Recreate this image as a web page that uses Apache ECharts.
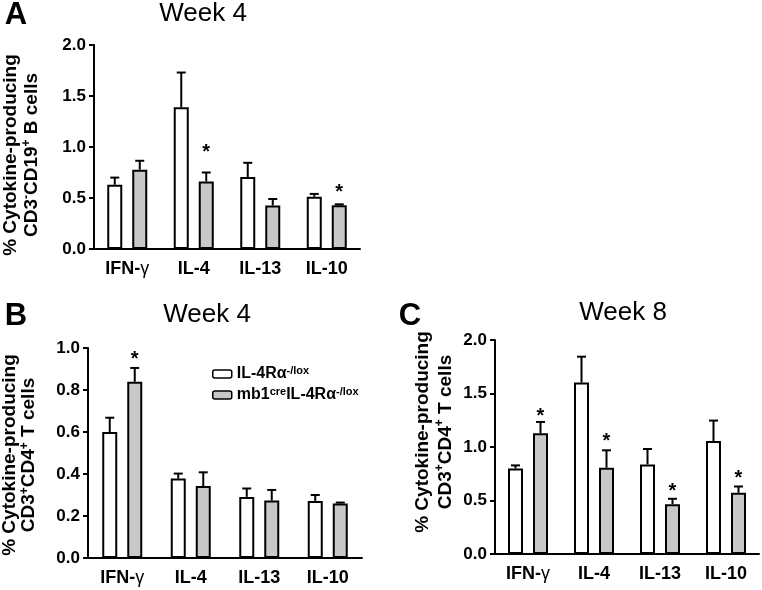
<!DOCTYPE html>
<html>
<head>
<meta charset="utf-8">
<script src="https://cdn.jsdelivr.net/npm/echarts@6/dist/echarts.min.js"></script>
<style>html,body{margin:0;padding:0;background:#fff;}#c{width:762px;height:590px;}</style>
</head>
<body>
<div id="c"></div>
<script>
// ---------- data ----------
const categories = ['IFN-γ', 'IL-4', 'IL-13', 'IL-10'];
const seriesNames = ['IL-4Rα-/lox', 'mb1creIL-4Rα-/lox'];

// Panel A: Week 4, CD3-CD19+ B cells
const aCtrl = [0.63, 1.39, 0.705, 0.513];
const aCtrlErr = [0.07, 0.34, 0.14, 0.027];
const aKo = [0.777, 0.662, 0.427, 0.428];
const aKoErr = [0.088, 0.088, 0.063, 0.01];
const aStars = [null, 0.987, null, 0.595];

// Panel B: Week 4, CD3+CD4+ T cells
const bCtrl = [0.60, 0.378, 0.291, 0.272];
const bCtrlErr = [0.068, 0.024, 0.04, 0.028];
const bKo = [0.839, 0.343, 0.274, 0.26];
const bKoErr = [0.066, 0.065, 0.05, 0.004];
const bStars = [0.967, null, null, null];

// Panel C: Week 8, CD3+CD4+ T cells
const cCtrl = [0.80, 1.603, 0.8375, 1.056];
const cCtrlErr = [0.028, 0.241, 0.144, 0.191];
const cKo = [1.128, 0.806, 0.466, 0.572];
const cKoErr = [0.106, 0.163, 0.05, 0.059];
const cStars = [1.327, 1.093, 0.626, 0.751];

const aTicks = {min: 0, max: 2, interval: 0.5};
const bTicks = {min: 0, max: 1, interval: 0.2};
const cTicks = {min: 0, max: 2, interval: 0.5};

// ---------- styling ----------
const FONT = "'Liberation Sans', Arial, Helvetica, sans-serif";
const BAR_W = 15, BAR_GAP = 10, CAP = 9, STAR_FONT = 20;
const OFFSET = (BAR_W + BAR_GAP) / 2;
const GREY = '#c8c8c8';

const panels = [
  {grid: {left: 94, top: 45, width: 266, height: 204}, ticks: aTicks, ctrl: aCtrl, ctrlErr: aCtrlErr, ko: aKo, koErr: aKoErr, stars: aStars,
   name: '% Cytokine-producing\nCD3{sup|-}CD19{sup|+} B cells', nameGap: 52, lh: 21, pad: [0, 16, 0, 0]},
  {grid: {left: 88, top: 348, width: 274, height: 210}, ticks: bTicks, ctrl: bCtrl, ctrlErr: bCtrlErr, ko: bKo, koErr: bKoErr, stars: bStars,
   name: '% Cytokine-producing\nCD3{sup|+}CD4{sup|+} T cells', nameGap: 50, lh: 19, pad: [0, 4, 0, 0]},
  {grid: {left: 495, top: 340, width: 264, height: 214}, ticks: cTicks, ctrl: cCtrl, ctrlErr: cCtrlErr, ko: cKo, koErr: cKoErr, stars: cStars,
   name: '% Cytokine-producing\nCD3{sup|+}CD4{sup|+} T cells', nameGap: 38, lh: 23, pad: [0, 0, 0, 30]}
];

function errRender(sign) {
  return function (params, api) {
    const i = api.value(0), m = api.value(1), e = api.value(2), s = api.value(3);
    const base = api.coord([i, m]);
    const top = api.coord([i, m + e]);
    const x = base[0] + sign * OFFSET;
    const ls = {stroke: '#000', lineWidth: 2};
    const children = [
      {type: 'line', shape: {x1: x, y1: base[1], x2: x, y2: top[1]}, style: ls},
      {type: 'line', shape: {x1: x - CAP / 2, y1: top[1], x2: x + CAP / 2, y2: top[1]}, style: ls}
    ];
    if (isFinite(s) && s > 0) {
      const sp = api.coord([i, s]);
      children.push({type: 'text', style: {text: '*', x: x, y: sp[1] + STAR_FONT * 0.22, align: 'center', verticalAlign: 'middle',
        fill: '#000', font: 'bold ' + STAR_FONT + 'px ' + FONT}});
    }
    return {type: 'group', children: children};
  };
}

const grids = [], xAxes = [], yAxes = [], series = [];
panels.forEach((p, k) => {
  grids.push(Object.assign({outerBoundsMode: 'none', containLabel: false}, p.grid));
  xAxes.push({
    type: 'category', gridIndex: k, data: categories,
    axisLine: {lineStyle: {color: '#000', width: 2}},
    axisTick: {alignWithLabel: true, length: 5, lineStyle: {color: '#000', width: 2}},
    axisLabel: {interval: 0, color: '#000', fontFamily: FONT, fontWeight: 'bold', fontSize: 18, margin: 11,
      formatter: v => v.replace('γ', '{g|γ}'),
      rich: {g: {fontFamily: FONT, fontWeight: 'normal', fontSize: 18, color: '#000'}}}
  });
  yAxes.push({
    type: 'value', gridIndex: k, min: p.ticks.min, max: p.ticks.max, interval: p.ticks.interval,
    axisLine: {show: true, lineStyle: {color: '#000', width: 2}},
    axisTick: {show: true, length: 5, lineStyle: {color: '#000', width: 2}},
    splitLine: {show: false},
    axisLabel: {color: '#000', fontFamily: FONT, fontWeight: 'bold', fontSize: 17, margin: 8, formatter: v => v.toFixed(1)},
    name: p.name, nameLocation: 'middle', nameGap: p.nameGap,
    nameTextStyle: {color: '#000', fontFamily: FONT, fontWeight: 'bold', fontSize: 19, lineHeight: p.lh, padding: p.pad,
      rich: {sup: {fontFamily: FONT, fontWeight: 'bold', fontSize: 12, color: '#000', verticalAlign: 'top', lineHeight: p.lh}}}
  });
  series.push({
    type: 'bar', name: seriesNames[0], xAxisIndex: k, yAxisIndex: k, data: p.ctrl,
    barWidth: BAR_W, barGap: (BAR_GAP / BAR_W * 100) + '%',
    itemStyle: {color: '#fff', borderColor: '#000', borderWidth: 2}, emphasis: {disabled: true}
  });
  series.push({
    type: 'bar', name: seriesNames[1], xAxisIndex: k, yAxisIndex: k, data: p.ko,
    barWidth: BAR_W, barGap: (BAR_GAP / BAR_W * 100) + '%',
    itemStyle: {color: GREY, borderColor: '#000', borderWidth: 2}, emphasis: {disabled: true}
  });
  series.push({
    type: 'custom', name: 'err-ctrl-' + k, xAxisIndex: k, yAxisIndex: k, clip: false, z: 5,
    renderItem: errRender(-1), encode: {x: 0, y: 1},
    data: p.ctrl.map((v, i) => [i, v, p.ctrlErr[i], 0])
  });
  series.push({
    type: 'custom', name: 'err-ko-' + k, xAxisIndex: k, yAxisIndex: k, clip: false, z: 5,
    renderItem: errRender(1), encode: {x: 0, y: 1},
    data: p.ko.map((v, i) => [i, v, p.koErr[i], p.stars[i] == null ? 0 : p.stars[i]])
  });
});

function txt(text, x, y, size, weight) {
  return {type: 'text', x: x, y: y, style: {text: text, align: 'center', verticalAlign: 'middle', fill: '#000',
    font: weight + ' ' + size + 'px ' + FONT}};
}

const chart = echarts.init(document.getElementById('c'), null, {renderer: 'canvas'});
chart.setOption({
  backgroundColor: '#fff',
  animation: false,
  grid: grids, xAxis: xAxes, yAxis: yAxes, series: series,
  legend: {
    data: seriesNames, orient: 'vertical', left: 212, top: 365, padding: 0,
    icon: 'roundRect', itemWidth: 19, itemHeight: 8, itemGap: 3,
    itemStyle: {borderColor: '#000', borderWidth: 1.5},
    formatter: n => n === seriesNames[0] ? 'IL-4Rα{sup|-/lox}' : 'mb1{sup|cre}IL-4Rα{sup|-/lox}',
    textStyle: {color: '#000', fontFamily: FONT, fontWeight: 'bold', fontSize: 16, lineHeight: 18,
      rich: {sup: {fontFamily: FONT, fontWeight: 'bold', fontSize: 11, color: '#000', verticalAlign: 'top', lineHeight: 18}}}
  },
  graphic: [
    txt('A', 16, 15, 31, 'bold'),
    txt('B', 16, 316, 31, 'bold'),
    txt('C', 410, 316, 31, 'bold'),
    txt('Week 4', 203, 14, 26, 'normal'),
    txt('Week 4', 207, 315, 26, 'normal'),
    txt('Week 8', 623, 313, 26, 'normal')
  ]
});
</script>
</body>
</html>
